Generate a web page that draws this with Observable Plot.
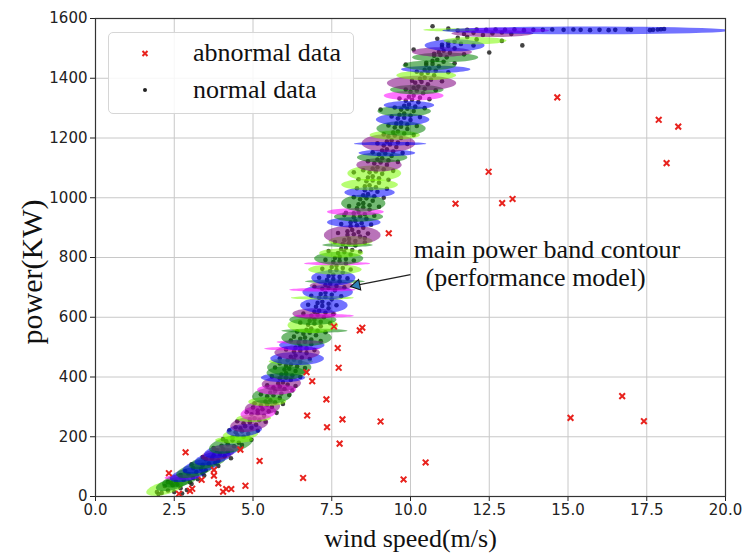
<!DOCTYPE html>
<html>
<head>
<meta charset="utf-8">
<script src="https://cdn.jsdelivr.net/npm/d3@7"></script>
<script src="https://cdn.jsdelivr.net/npm/@observablehq/plot@0.6"></script>
<style>
  body { margin: 0; background: #fff; }
  #wrap { position: relative; width: 745px; height: 553px; }
  #legend { position: absolute; left: 108px; top: 32px; width: 244px; height: 80px;
    border: 1px solid #d6d6d6; border-radius: 5px; background: rgba(255,255,255,0.85); }
</style>
</head>
<body>
<div id="wrap"></div>
<script>
// ---------- data ----------
const xTicks = [0, 2.5, 5, 7.5, 10, 12.5, 15, 17.5, 20];
const yTicks = [0, 200, 400, 600, 800, 1000, 1200, 1400, 1600];
const seriesNames = ["abnormal data", "normal data"];
const componentColors = ["#7cfc00", "#008000", "#0000ff", "#800080", "#ff00ff"];

// abnormal data: [wind speed, power]
const abnormalData = [
  [2.33,78],[2.65,9],[2.86,148],[3.0,19],[3.07,26],[3.37,56],[3.76,89],[3.76,70],[3.9,44],
  [4.05,16],[4.15,25],[4.31,25],[4.6,157],[4.76,36],[5.21,119],[6.59,62],[6.72,271],[6.88,386],
  [6.7,416],[7.33,325],[7.35,232],[7.57,569],[7.69,497],[7.72,431],[8.39,556],[8.47,565],
  [7.84,258],[7.75,177],[9.05,251],[9.78,57],[10.48,114],[9.31,881],[11.43,980],[12.48,1087],
  [12.91,982],[13.24,996],[14.66,1336],[17.88,1261],[18.5,1238],[18.13,1116],[16.72,336],
  [15.08,263],[17.41,252]
];

// normal data (band core): [wind speed, power]
const normalData = [
  [2.1,12],[2.3,20],[2.5,15],[2.7,28],[2.2,35],[2.45,38],[2.9,22],[2.0,8],[2.6,40],
  [2.55,50],[2.8,55],[3.0,48],[2.7,65],[3.1,62],[2.4,45],[3.25,58],
  [2.95,75],[3.2,82],[3.4,78],[3.1,95],[3.35,92],[3.5,88],[2.85,85],
  [3.4,105],[3.6,110],[3.8,112],[3.5,125],[3.7,128],[3.9,120],
  [3.75,138],[3.95,142],[4.1,135],[3.85,155],[4.05,158],[4.2,150],
  [4.0,170],[4.2,175],[4.4,168],[4.15,185],[4.35,188],[4.55,180],[4.65,172],
  [4.35,198],[4.5,205],[4.7,200],[4.45,215],[4.65,218],[4.85,210],
  [4.6,228],[4.75,235],[4.95,230],[4.7,245],[4.9,248],[5.1,240],[4.45,232],
  [4.9,258],[5.05,262],[5.2,255],[4.95,275],[5.15,278],[5.35,270],
  [5.15,288],[5.3,292],[5.5,285],[5.25,305],[5.45,308],[5.6,300],[5.0,298],
  [5.4,318],[5.55,322],[5.7,315],[5.45,335],[5.65,338],[5.85,330],
  [5.55,348],[5.7,352],[5.9,345],[5.65,365],[5.85,368],[6.0,360],[6.25,355],
  [5.8,378],[5.95,382],[6.1,375],[5.85,395],[6.05,398],[6.2,390],
  [5.9,408],[6.05,412],[6.25,405],[6.0,425],[6.15,428],[6.35,420],
  [6.05,438],[6.2,442],[6.4,435],[6.1,455],[6.3,458],[6.5,450],[5.85,445],
  [6.2,468],[6.35,472],[6.55,465],[6.3,485],[6.5,488],[6.7,480],
  [6.35,498],[6.5,502],[6.7,495],[6.45,515],[6.65,518],[6.85,510],
  [6.5,528],[6.65,532],[6.85,525],[6.6,545],[6.8,548],[7.0,540],[6.3,535],
  [6.7,558],[6.85,562],[7.05,555],[6.75,575],[6.95,578],[7.15,570],
  [6.8,588],[6.95,592],[7.15,585],[6.85,605],[7.05,608],[7.25,600],
  [6.95,618],[7.1,622],[7.3,615],[7.0,635],[7.2,638],[7.4,630],
  [7.05,648],[7.2,652],[7.4,645],[7.1,665],[7.3,668],[7.5,660],
  [7.15,678],[7.3,682],[7.5,675],[7.2,695],[7.4,698],[7.6,690],
  [7.3,708],[7.45,712],[7.65,705],[7.35,725],[7.55,728],[7.75,720],
  [7.4,738],[7.55,742],[7.75,735],[7.45,755],[7.65,758],[7.85,750],
  [7.5,768],[7.65,772],[7.85,765],[7.55,785],[7.75,788],[7.95,780],
  [7.6,798],[7.75,802],[7.95,795],[7.7,815],[7.9,818],[8.1,810],
  [7.8,828],[7.95,832],[8.15,825],[7.85,845],[8.05,848],[8.25,840],
  [7.9,858],[8.05,862],[8.25,855],[8.0,875],[8.2,878],[8.4,870],[8.55,865],
  [8.0,888],[8.15,892],[8.35,885],[8.1,905],[8.3,908],[8.5,900],
  [8.1,918],[8.25,922],[8.45,915],[8.2,935],[8.4,938],[8.6,930],
  [8.2,948],[8.35,952],[8.55,945],[8.3,965],[8.5,968],[8.7,960],[7.95,950],
  [8.35,978],[8.5,982],[8.7,975],[8.4,995],[8.6,998],[8.8,990],
  [8.5,1008],[8.65,1012],[8.85,1005],[8.55,1025],[8.75,1028],[8.95,1020],
  [8.55,1038],[8.7,1042],[8.9,1035],[8.6,1055],[8.8,1058],[9.0,1050],
  [8.65,1068],[8.8,1072],[9.0,1065],[8.7,1085],[8.9,1088],[9.1,1080],[8.2,1085],
  [8.8,1098],[8.95,1102],[9.15,1095],[8.85,1115],[9.05,1118],[9.25,1110],
  [8.95,1128],[9.1,1132],[9.3,1125],[9.0,1145],[9.2,1148],[9.4,1140],
  [9.1,1158],[9.25,1162],[9.45,1155],[9.15,1175],[9.35,1178],[9.55,1170],
  [9.25,1188],[9.4,1192],[9.6,1185],[9.3,1205],[9.5,1208],[9.7,1200],
  [9.45,1218],[9.6,1222],[9.8,1215],[9.5,1235],[9.7,1238],[9.9,1230],
  [9.55,1248],[9.7,1252],[9.9,1245],[9.6,1265],[9.8,1268],[10.0,1260],
  [9.65,1278],[9.8,1282],[10.0,1275],[9.7,1295],[9.9,1298],[10.1,1290],[9.05,1295],
  [9.8,1308],[9.95,1312],[10.15,1305],[9.85,1325],[10.05,1328],[10.25,1320],
  [9.95,1338],[10.1,1342],[10.3,1335],[10.0,1355],[10.2,1358],[10.4,1350],
  [10.1,1368],[10.25,1372],[10.45,1365],[10.15,1385],[10.35,1388],[10.55,1380],
  [10.3,1398],[10.45,1402],[10.65,1395],[10.35,1415],[10.55,1418],[10.75,1410],
  [10.45,1428],[10.6,1432],[10.8,1425],[10.5,1445],[10.7,1448],[10.9,1440],[9.85,1446],
  [10.7,1458],[10.85,1462],[11.05,1455],[10.75,1475],[10.95,1478],[11.15,1470],
  [10.9,1488],[11.05,1492],[11.25,1485],[11.0,1505],[11.2,1508],[11.4,1500],[10.1,1496],
  [11.2,1518],[11.4,1522],[11.6,1515],[11.5,1535],[11.8,1538],[12.1,1530],[10.85,1532],
  [12.9,1525],[13.55,1510],[12.5,1486],
  [11.7,1548],[12.0,1552],[12.3,1545],[12.6,1550],[12.9,1553],[13.2,1548],[11.5,1560],
  [11.8,1562],[12.1,1563],[12.4,1562],[12.7,1563],[13.0,1562],[13.3,1563],[13.6,1561],
  [13.9,1562],[10.7,1574],[11.2,1566],
  [14.2,1562],[14.5,1563],[14.86,1562],[15.17,1563],[15.4,1562],[15.7,1561],[16.0,1562],
  [16.29,1561],[16.5,1562],[16.9,1563],[17.0,1562],[17.6,1561],[17.7,1562],[17.85,1563],
  [17.95,1564],[18.05,1565]
];

// normal data (band edges): [wind speed, power]
const normalEdgeData = [
  [1.95,15],[2.75,10],[2.3,48],[3.05,42],[2.7,72],[3.45,70],[3.05,108],[3.9,102],
  [3.4,132],[4.3,128],[3.75,162],[4.6,160],[4.05,192],[4.95,190],[4.25,222],[5.15,220],
  [4.5,252],[5.4,250],[4.8,282],[5.75,280],[5.05,312],[5.95,310],[5.25,342],[6.15,340],
  [5.45,372],[6.35,370],[5.6,402],[6.5,400],[5.7,432],[6.65,430],[5.85,462],[6.8,460],
  [6.05,492],[6.95,490],[6.2,522],[7.15,520],[6.4,552],[7.3,550],[6.5,582],[7.45,580],
  [6.6,612],[7.55,610],[6.75,642],[7.65,640],[6.85,672],[7.8,670],[6.95,702],[7.9,700],
  [7.1,732],[8.0,730],[7.2,762],[8.1,760],[7.3,792],[8.2,790],[7.4,822],[8.4,820],
  [7.6,852],[8.55,850],[7.7,882],[8.65,880],[7.8,912],[8.75,910],[7.9,942],[8.85,940],
  [8.05,972],[9.0,970],[8.2,1002],[9.15,1000],[8.3,1032],[9.25,1030],[8.35,1062],[9.3,1060],
  [8.5,1092],[9.45,1090],[8.65,1122],[9.6,1120],[8.8,1152],[9.75,1150],[8.95,1182],[9.9,1180],
  [9.15,1212],[10.1,1210],[9.3,1242],[10.2,1240],[9.4,1272],[10.3,1270],[9.5,1302],[10.45,1300],
  [9.65,1332],[10.6,1330],[9.85,1362],[10.8,1360],[10.05,1392],[11.0,1390],[10.2,1422],[11.2,1420],
  [10.5,1452],[11.4,1450],[10.75,1482],[11.7,1480],[11.0,1512],[12.0,1510]
];

// mixture components (performance model): [centre wind, centre power, spread wind, spread power, component, tilt]
const components = [
  [2.2,28,0.5,26,0,0.012],[2.45,42,0.45,24,1,0.012],[2.7,56,0.5,26,1,0.012],[2.75,64,0.55,9,4,0.01],
  [2.95,74,0.5,26,2,0.012],[3.15,88,0.5,26,1,0.012],[3.35,102,0.5,26,2,0.012],[3.55,115,0.5,24,1,0.012],
  [3.72,128,0.5,24,2,0.012],[3.88,141,0.48,22,3,0.01],[4.0,152,0.5,24,2,0.01],[4.15,162,0.48,11,4,0.006],
  [4.3,175,0.62,32,1,0.01],[4.4,190,0.6,11,0,0.004],[4.6,207,0.55,18,0,0.006],[4.72,222,0.55,21,2,0.006],
  [4.88,242,0.58,26,3,0.006],[5.02,262,0.55,13,0,0.004],[5.17,280,0.55,25,4,0.005],[5.3,298,0.55,25,3,0.004],
  [5.45,318,0.6,15,0,0.002],[5.6,338,0.62,28,1,0.003],[5.75,358,0.62,17,4,0.002],[5.9,378,0.62,25,3,0.002],
  [5.95,398,0.7,15,2,0],[6.05,414,0.62,22,1,0],[6.15,432,0.7,28,1,0],[6.2,452,0.7,10,0,0],
  [6.4,462,0.85,22,2,0],[6.4,482,0.72,24,3,0],[6.25,495,0.9,6,4,0],[6.55,507,0.72,18,2,0],
  [6.5,517,0.75,6,4,0],[6.7,532,0.8,28,1,0],[6.95,555,1.05,7,1,0],[6.9,573,0.8,26,0,0],
  [6.9,592,0.75,18,1,0],[6.95,612,0.7,18,3,0],[7.25,605,0.95,6,4,0],[7.25,640,0.75,26,2,0],
  [7.2,665,1.0,6,0,0],[7.37,684,0.8,24,2,0],[7.2,692,1.05,6,4,0],[7.5,706,0.7,15,3,0],
  [7.6,720,0.95,6,1,0],[7.55,732,0.7,26,2,0],[7.6,760,0.85,17,0,0],[7.67,780,1.05,6,4,0],
  [7.72,797,0.78,22,1,0],[7.8,815,0.7,15,0,0],[8.0,842,0.8,7,1,0],[8.1,855,0.7,17,0,0],
  [8.15,875,0.9,32,3,0],[8.2,918,0.85,17,2,0],[8.35,937,0.78,17,1,0],[8.25,953,0.9,12,4,0],
  [8.5,982,0.7,28,1,0],[8.7,1018,0.8,17,2,0],[8.7,1044,0.9,19,0,0],[8.85,1082,0.85,26,0,0],
  [9.0,1110,0.72,22,3,0],[9.1,1135,0.8,17,1,0],[9.25,1150,0.9,11,2,0],[9.3,1183,0.85,30,3,0],
  [9.35,1181,1.15,6,2,0],[9.5,1210,0.8,15,0,0],[9.7,1232,0.78,24,1,0],[9.75,1262,0.85,20,2,0],
  [9.8,1290,0.85,18,1,0],[9.95,1310,0.8,14,2,0],[10.1,1342,0.95,16,4,0],[10.2,1362,0.85,16,1,0],
  [10.35,1384,1.1,25,3,0],[10.5,1410,0.95,16,0,0],[10.8,1430,1.1,12,2,0],[10.6,1443,0.85,16,1,0],
  [11.1,1470,1.05,16,1,0],[11.0,1488,0.95,16,3,0],[11.4,1510,0.95,20,2,0],[12.05,1526,1.0,12,0,0],
  [12.6,1550,1.3,12,3,0],[12.9,1560,1.5,9,4,0],[11.25,1562,0.85,5,0,0],[15.6,1560,4.6,13,2,0]
];

const annotationLines = ["main power band contour", "(performance model)"];
const annotationPos = [[10.1, 827], [10.48, 734]];
const arrowFrom = [10.0, 743];
const arrowTo = [8.1, 703];
const arrowHeadCentre = [8.29, 707];

// ---------- derived shapes ----------
const ellipsePts = components.flatMap((c, i) => d3.range(0, 49).map(k => {
  const t = 2 * Math.PI * k / 48;
  const dy = c[3] * Math.sin(t);
  return {id: i, comp: c[4], x: c[0] + c[2] * Math.cos(t) + c[5] * dy, y: c[1] + dy};
}));
const allNormal = normalData.concat(normalEdgeData);

const serif = "'Liberation Serif', 'Times New Roman', serif";

const chart = Plot.plot({
  width: 745, height: 553,
  marginLeft: 95, marginRight: 20, marginTop: 18, marginBottom: 57,
  style: {fontFamily: "'DejaVu Sans', sans-serif", fontSize: "15px", color: "#222", background: "#fff"},
  x: {domain: [0, 20], ticks: xTicks, tickFormat: d => d.toFixed(1), label: null, tickSize: 5, tickPadding: 3},
  y: {domain: [0, 1600], ticks: yTicks, tickFormat: d => String(d), label: null, tickSize: 5, tickPadding: 3},
  color: {type: "ordinal", domain: [0, 1, 2, 3, 4], range: componentColors},
  marks: [
    Plot.ruleX(xTicks, {stroke: "#c8c8c8", strokeWidth: 1}),
    Plot.ruleY(yTicks, {stroke: "#c8c8c8", strokeWidth: 1}),
    Plot.dot(allNormal, {x: d => d[0], y: d => d[1], r: 2.3, fill: "#222", fillOpacity: 0.85, stroke: "none"}),
    Plot.line(ellipsePts, {x: "x", y: "y", z: "id", fill: "comp", fillOpacity: 0.55, stroke: "none", curve: "linear-closed", clip: true}),
    Plot.dot(abnormalData, {x: d => d[0], y: d => d[1], symbol: "times", r: 2.7, stroke: "#e8231e", strokeWidth: 2}),
    Plot.frame({stroke: "#333", strokeWidth: 1.2}),
    Plot.text(annotationLines, {x: (d, i) => annotationPos[i][0], y: (d, i) => annotationPos[i][1], text: d => d,
      textAnchor: "start", lineAnchor: "middle", fontFamily: serif, fontSize: 26, fill: "#111"}),
    Plot.link([0], {x1: () => arrowFrom[0], y1: () => arrowFrom[1], x2: () => arrowTo[0], y2: () => arrowTo[1], stroke: "#222", strokeWidth: 1.3}),
    Plot.dot([0], {x: () => arrowHeadCentre[0], y: () => arrowHeadCentre[1], symbol: "triangle", r: 4, rotate: -101.5,
      fill: "#2f7fb5", stroke: "#111", strokeWidth: 1}),
    Plot.text(["wind speed(m/s)"], {frameAnchor: "bottom", dy: 42, text: d => d, lineAnchor: "middle", fontFamily: serif, fontSize: 26, fill: "#111"})
  ]
});

const wrap = document.getElementById("wrap");
wrap.appendChild(chart);

// y-axis title
d3.select(chart).append("text")
  .attr("transform", "translate(31,272) rotate(-90)")
  .attr("text-anchor", "middle").attr("dominant-baseline", "central")
  .attr("font-family", serif).attr("font-size", 30).attr("fill", "#111")
  .text("power(KW)");

// legend
const legend = document.createElement("div");
legend.id = "legend";
const ls = d3.select(legend).append("svg").attr("width", 244).attr("height", 80);
ls.append("path").attr("d", "M33.5,18L38.5,23M38.5,18L33.5,23").attr("stroke", "#e8231e").attr("stroke-width", 2);
ls.append("circle").attr("cx", 36).attr("cy", 57).attr("r", 2).attr("fill", "#222");
seriesNames.forEach((name, i) => {
  ls.append("text").attr("x", 84).attr("y", i === 0 ? 20 : 57).attr("dy", "0.32em")
    .attr("font-family", serif).attr("font-size", 26).attr("fill", "#111").text(name);
});
wrap.appendChild(legend);
</script>
</body>
</html>
